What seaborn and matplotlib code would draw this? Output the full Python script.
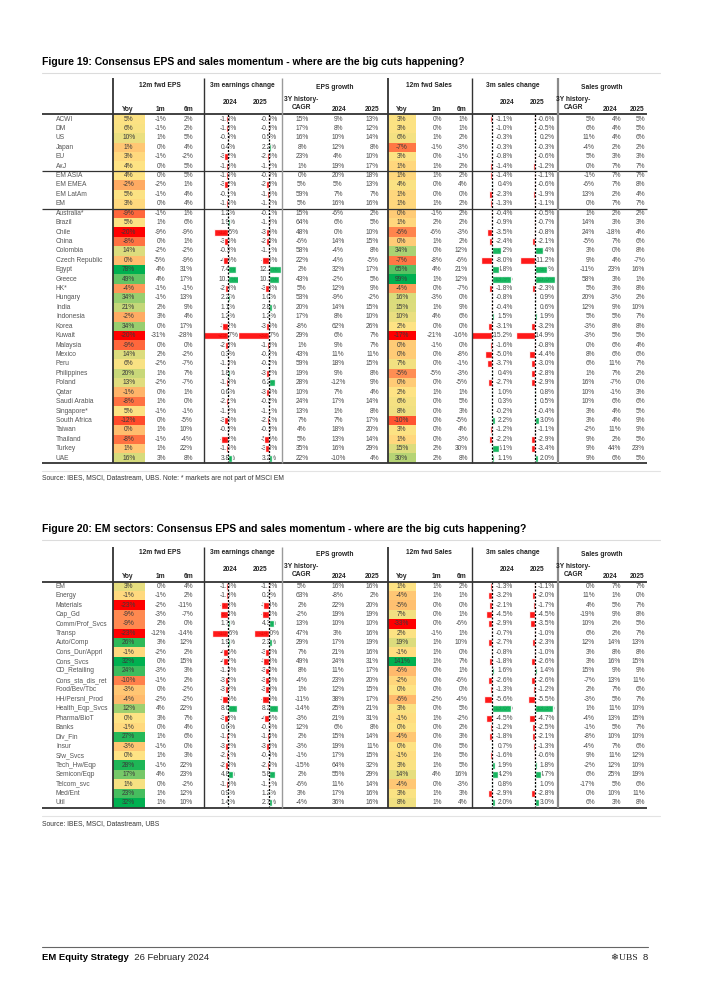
import numpy as np
import pandas as pd
import matplotlib
matplotlib.use("Agg")
import matplotlib.pyplot as plt
import seaborn as sns
from matplotlib.colors import LinearSegmentedColormap, TwoSlopeNorm

sns.set_theme(style="white")
plt.rcParams['font.family'] = ['Liberation Sans', 'DejaVu Sans']

# ---------------- DATA: Figure 19 ----------------
t1_rows = ["ACWI", "DM", "US", "Japan", "EU", "AxJ", "EM ASIA", "EM EMEA", "EM LatAm", "EM",
           "Australia*", "Brazil", "Chile", "China", "Colombia", "Czech Republic", "Egypt", "Greece",
           "HK*", "Hungary", "India", "Indonesia", "Korea", "Kuwait", "Malaysia", "Mexico", "Peru",
           "Philippines", "Poland", "Qatar", "Saudi Arabia", "Singapore*", "South Africa", "Taiwan",
           "Thailand", "Turkey", "UAE"]
t1_eps_yoy = [5, 6, 10, 1, 3, 4, 4, -2, 5, 3, -9, 5, -20, -8, 14, 0, 78, 49, -4, 34, 21, -2, 34, -20,
              -9, 14, 6, 20, 13, -1, -8, 5, -12, 0, -8, 1, 16]
t1_eps_1m = [-1, -1, 1, 0, -1, 0, 0, -2, -1, 0, -1, 1, -9, 0, -2, -5, 4, 4, -1, -1, 2, 3, 0, -31,
             0, 2, -2, 1, -2, 0, 1, -1, 0, 1, -1, 1, 3]
t1_eps_6m = [2, 2, 5, 4, -2, 5, 5, 1, 4, 4, 1, 6, -9, 1, -2, -9, 31, 17, -1, 13, 9, 4, 17, -28,
             0, -2, -7, 7, -7, 1, 0, -1, -5, 10, -4, 22, 8]
t1_earn_2024 = [-1.8, -1.8, -0.9, 0.4, -3.2, -1.6, -1.5, -3.2, -0.1, -1.6, 1.2, 1.9, -12.5, -3.6, -0.3,
                -4.6, 7.4, 10.7, -2.8, 2.2, 1.1, 1.2, -5.2, -29.7, -2.3, 0.3, -1.3, 1.8, -1.8, 0.6,
                -2.1, -1.2, -3.6, -0.9, -6.2, -1.6, 3.8]
t1_earn_2025 = [-0.9, -0.9, 0.5, 2.2, -2.5, -1.2, -0.9, -2.9, -1.6, -1.2, -0.1, -1.0, -3.6, -2.8, -1.1,
                -7.5, 12.2, 10.3, -3.8, 1.0, 2.8, 1.2, -3.5, -32.7, -1.8, -0.2, -0.2, -3.2, 6.2, -3.4,
                -0.2, -1.1, -2.1, -0.8, -5.5, -3.8, 3.2]
t1_epsg_cagr = [15, 17, 16, 8, 23, 1, 0, 5, 59, 5, 15, 64, 48, -6, 58, 22, 2, 43, 5, 53, 20, 17, -8, 29,
                1, 43, 59, 19, 28, 10, 24, 13, 7, 4, 5, 35, 22]
t1_epsg_2024 = [9, 8, 10, 12, 4, 19, 20, 5, 7, 16, -6, 6, 0, 14, -4, -4, 32, -2, 12, -9, 14, 8, 62, 6,
                9, 11, 18, 9, -12, 7, 17, 1, 7, 18, 13, 16, -10]
t1_epsg_2025 = [13, 12, 14, 8, 10, 17, 18, 13, 7, 16, 2, 5, 10, 15, 8, -5, 17, 5, 9, -2, 15, 10, 26, 7,
                7, 11, 15, 8, 9, 4, 14, 8, 17, 20, 14, 29, 4]
t1_sales_yoy = [3, 3, 6, -7, 3, 1, 1, 4, 1, 1, 0, 1, -6, 0, 34, -7, 65, 99, -4, 16, 15, 10, 2, -17,
                0, 0, 7, -5, 0, 2, 6, 8, -10, 3, 1, 15, 30]
t1_sales_1m = [0, 0, 1, -1, 0, 1, 1, 0, 0, 1, -1, 2, -6, 1, 0, -8, 4, 1, 0, -3, 1, 4, 0, -21,
               -1, 0, 0, -5, 0, 1, 0, 0, 0, 0, 0, 2, 2]
t1_sales_6m = [1, 1, 2, -3, -1, 2, 2, 4, 0, 2, 2, 2, -3, 2, 12, -6, 21, 12, -7, 0, 9, 6, 0, -16,
               0, -8, -1, -3, -5, 1, 5, 3, -5, 4, -3, 30, 8]
t1_schg_2024 = [-1.1, -1.0, -0.3, -0.3, -0.8, -1.4, -1.4, 0.4, -2.3, -1.3, -0.4, -0.9, -3.5, -2.4, 6.2,
                -8.0, 4.8, 13.9, -1.8, -0.8, -0.4, 1.5, -3.1, -15.2, -1.6, -5.0, -3.7, 0.4, -2.7, 1.0,
                0.3, -0.2, 2.2, -1.2, -2.2, 5.1, 1.1]
t1_schg_2025 = [-0.6, -0.5, 0.2, -0.3, -0.6, -1.2, -1.1, -0.6, -1.9, -1.1, -0.5, -0.7, -0.8, -2.1, 6.4,
                -11.2, 9.3, 15.5, -2.3, 0.9, 0.6, 1.9, -3.2, -14.9, -0.8, -4.4, -3.0, -2.8, -2.9, 0.8,
                0.5, -0.4, 3.0, -1.1, -2.9, -3.4, 2.0]
t1_sg_cagr = [5, 6, 11, -4, 5, 0, -1, -6, 13, 0, 1, 14, 24, -5, 3, 9, -11, 58, 5, 20, 12, 5, -3, -3,
              0, 8, 6, 1, 16, 10, 10, 3, 3, -2, 9, 9, 9]
t1_sg_2024 = [4, 4, 4, 2, 3, 7, 7, 7, 2, 7, 2, 3, -18, 7, 0, 4, 23, 3, 3, -3, 9, 5, 8, 5,
              6, 6, 11, 7, -7, -1, 6, 4, 4, 11, 2, 44, 6]
t1_sg_2025 = [5, 5, 6, 2, 3, 7, 7, 8, 4, 7, 2, 3, 4, 6, 8, -7, 16, 1, 8, 2, 10, 7, 8, 5,
              4, 6, 7, 2, 0, 3, 6, 5, 9, 9, 5, 23, 5]

# ---------------- DATA: Figure 20 ----------------
t2_rows = ["EM", "Energy", "Materials", "Cap_Gd", "Comm/Prof_Svcs", "Transp", "Auto/Comp",
           "Cons_Dur/Apprl", "Cons_Svcs", "CD_Retailing", "Cons_sta_dis_ret", "Food/Bev/Tbc",
           "HH/Persnl_Prod", "Health_Eqp_Svcs", "Pharma/BioT", "Banks", "Div_Fin", "Insur",
           "S/w_Svcs", "Tech_Hw/Eqp", "Semicon/Eqp", "Telcom_svc", "Med/Ent", "Util"]
t2_eps_yoy = [3, -1, -23, -9, -9, -23, 26, -1, 32, 24, -10, -3, -4, 12, 0, -1, 27, -3, 0, 28, 17, 1, 23, 32]
t2_eps_1m = [0, -1, -2, -3, 2, -12, 3, -2, 0, -3, -1, 0, -2, 4, 3, 0, 1, -1, 1, -1, 4, 0, 1, 1]
t2_eps_6m = [4, 2, -11, -7, 0, -14, 12, 2, 15, 3, 2, -2, -2, 22, 7, 4, 6, 0, 3, 22, 23, -2, 12, 10]
t2_earn_2024 = [-1.6, -1.6, -6.8, -8.4, 1.7, -15.6, 1.9, -4.6, -4.7, -1.4, -3.2, -3.2, -5.6, 8.6, -3.9,
                0.6, -1.7, -3.2, -2.1, -2.8, 4.8, -1.6, 0.9, 1.4]
t2_earn_2025 = [-1.2, 0.2, -5.4, -6.3, 4.3, -14.0, 2.3, -3.3, -5.3, -3.5, -3.5, -3.8, -6.0, 8.2, -4.5,
                -0.5, -1.4, -3.0, -0.4, -2.0, 5.8, -1.1, 1.2, 2.7]
t2_epsg_cagr = [5, 63, 2, -2, 13, 47, 29, 7, 49, 8, -4, 1, -11, -14, -3, 12, 2, -3, -1, -15, 2, -6, 3, -4]
t2_epsg_2024 = [16, -8, 22, 19, 10, 3, 17, 21, 24, 11, 23, 12, 38, 25, 21, 6, 15, 19, 17, 64, 55, 11, 17, 36]
t2_epsg_2025 = [16, 2, 20, 19, 10, 16, 19, 16, 31, 17, 20, 15, 17, 21, 31, 8, 14, 11, 15, 32, 29, 14, 16, 16]
t2_sales_yoy = [1, -4, -5, 7, -33, 2, 19, -1, 141, -6, -2, 0, -6, 3, -1, 0, -4, 0, -1, 3, 14, -4, 3, 8]
t2_sales_1m = [1, 1, 0, 0, 0, -1, 1, 1, 1, 0, 0, 0, -2, 0, 1, 0, 0, 0, 1, 1, 4, 0, 1, 1]
t2_sales_6m = [2, 1, 0, 1, -6, 1, 10, 0, 7, 1, -6, 0, -4, 5, -2, 2, 3, 5, 5, 5, 16, -3, 3, 4]
t2_schg_2024 = [-1.3, -3.2, -2.1, -4.5, -2.9, -0.7, -2.7, -0.8, -1.8, 1.6, -2.6, -1.3, -5.6, 13.6, -4.5,
                -1.2, -1.8, 0.7, -1.6, 1.9, 4.2, 0.8, -2.9, 2.0]
t2_schg_2025 = [-1.1, -2.0, -1.7, -4.5, -3.5, -1.0, -2.3, -1.0, -2.6, 1.4, -2.6, -1.2, -5.5, 13.3, -4.7,
                -2.5, -2.1, -1.3, -0.6, 1.8, 4.7, 1.0, -2.8, 3.0]
t2_sg_cagr = [0, 11, 4, -19, 10, 6, 12, 3, 3, 15, -7, 2, -3, 1, -4, -1, -8, -4, 9, -2, 6, -17, 0, 6]
t2_sg_2024 = [7, 1, 5, 9, 2, 2, 14, 8, 16, 9, 13, 7, 5, 11, 13, 5, 10, 7, 11, 12, 25, 5, 10, 3]
t2_sg_2025 = [7, 0, 7, 8, 5, 7, 13, 8, 15, 9, 11, 6, 7, 10, 15, 7, 10, 6, 12, 10, 19, 6, 11, 8]

group_labels = ["12m fwd EPS", "3m earnings change", "EPS growth",
                "12m fwd Sales", "3m sales change", "Sales growth"]
title1 = "Figure 19: Consensus EPS and sales momentum - where are the big cuts happening?"
title2 = "Figure 20: EM sectors: Consensus EPS and sales momentum - where are the big cuts happening?"
source1 = "Source: IBES, MSCI, Datastream, UBS. Note: * markets are not part of MSCI EM"
source2 = "Source: IBES, MSCI, Datastream, UBS"

# ---------------- LAYOUT ----------------
W, H = 702, 992
RH = 9.42
FS = 4.8
TXT = '#4A4A4A'
HDR = '#222222'
RED, GREEN = '#FF0000', '#00B050'
cmap = LinearSegmentedColormap.from_list('rag', ['#FF0000', '#FFE384', '#00B050'])

fig = plt.figure(figsize=(W / 100, H / 100), dpi=100)
fig.patch.set_facecolor('white')


def px_axes(x0, y0, x1, y1):
    return fig.add_axes([x0 / W, 1 - y1 / H, (x1 - x0) / W, (y1 - y0) / H])


axF = fig.add_axes([0, 0, 1, 1])
axF.set_xlim(0, W)
axF.set_ylim(H, 0)
axF.axis('off')
axF.set_zorder(10)

GROUP_X = [160, 242, 335, 429, 513, 602]
GROUP_DY = [-29, -29, -27, -29, -29, -27]
SUB_HEAD = [("Yoy", 128, -5), ("1m", 160, -5), ("6m", 189, -5),
            ("2024", 230, -12), ("2025", 260, -12),
            ("3Y history-", 301, -15), ("CAGR", 301, -7), ("2024", 339, -5), ("2025", 372, -5),
            ("Yoy", 402, -5), ("1m", 436, -5), ("6m", 462, -5),
            ("2024", 507, -12), ("2025", 537, -12),
            ("3Y history-", 573, -15), ("CAGR", 573, -7), ("2024", 610, -5), ("2025", 637, -5)]
VLINES = [(112.5, '#333333', 1.3), (203.5, '#333333', 1.0), (281.5, '#9A9A9A', 1.0),
          (387.5, '#333333', 1.3), (471.5, '#333333', 1.0), (557.5, '#8A8A8A', 1.6)]
TEXT_COLS = [("eps_1m", 166, 'right', 0), ("eps_6m", 193, 'right', 0),
             ("earn_2024", 228, 'center', 1), ("earn_2025", 269, 'center', 1),
             ("epsg_cagr", 302, 'center', 0), ("epsg_2024", 338, 'center', 0),
             ("epsg_2025", 379, 'right', 0),
             ("sales_1m", 442, 'right', 0), ("sales_6m", 468, 'right', 0),
             ("schg_2024", 513, 'right', 1), ("schg_2025", 555, 'right', 1),
             ("sg_cagr", 595, 'right', 0), ("sg_2024", 621, 'right', 0), ("sg_2025", 645, 'right', 0)]
HEAT_COLS = [("eps_yoy", 112.5, 145), ("sales_yoy", 387.5, 416)]
BAR_COLS = [("earn_2024", 205, 228, 238), ("earn_2025", 239, 269, 281),
            ("schg_2024", 472, 492, 515), ("schg_2025", 516, 535, 557)]


def fmt(v, dec):
    return f"{v:.{dec}f}%"


def draw_table(title, source, rows, d, title_y, header_top, data_top, scales, separators):
    n = len(rows)
    data_bot = data_top + n * RH
    axF.text(42, title_y, title, fontsize=7.5, fontweight='bold', ha='left', va='center', color='black')
    axF.plot([42, 660], [title_y + 10.5] * 2, color='#DCDCDC', lw=0.8)
    for lab, x, dy in zip(group_labels, GROUP_X, GROUP_DY):
        axF.text(x, data_top + dy, lab, fontsize=4.8, fontweight='bold', ha='center', va='center', color=HDR)
    for lab, x, dy in SUB_HEAD:
        axF.text(x, data_top + dy, lab, fontsize=4.8, fontweight='bold', ha='center', va='center', color=HDR)
    axF.plot([42, 647], [data_top] * 2, color='#333333', lw=1.3, solid_capstyle='butt')
    axF.plot([42, 647], [data_bot] * 2, color='#333333', lw=1.3, solid_capstyle='butt')
    for s in separators:
        y = data_top + s * RH
        axF.plot([42, 647], [y, y], color='#333333', lw=0.9, solid_capstyle='butt')
    for x, c, lw in VLINES:
        axF.plot([x, x], [header_top, data_bot], color=c, lw=lw, solid_capstyle='butt')
    axF.plot([42, 660], [data_bot + 8.5] * 2, color='#E3E3E3', lw=0.8)
    axF.text(42, data_bot + 16, source, fontsize=4.9, ha='left', va='center', color='#333333')

    axT = px_axes(0, data_top, W, data_bot)
    axT.set_xlim(0, W)
    axT.set_ylim(n, 0)
    axT.axis('off')
    axT.set_zorder(0)
    for i, r in enumerate(rows):
        axT.text(56, i + 0.5, r, fontsize=FS, ha='left', va='center', color='#555555')
    for key, x, ha, dec in TEXT_COLS:
        for i, v in enumerate(d[key]):
            axT.text(x, i + 0.5, fmt(v, dec), fontsize=FS, ha=ha, va='center', color=TXT)

    for key, x0, x1 in HEAT_COLS:
        vals = d[key]
        axH = px_axes(x0, data_top, x1, data_bot)
        axH.set_zorder(1)
        df = pd.DataFrame({'v': vals}, index=rows)
        norm = TwoSlopeNorm(vmin=min(vals), vcenter=float(np.median(vals)), vmax=max(vals))
        labels = np.array([[fmt(v, 0)] for v in vals])
        sns.heatmap(df, ax=axH, cmap=cmap, norm=norm, annot=labels, fmt='', cbar=False,
                    xticklabels=False, yticklabels=False, linewidths=0,
                    annot_kws=dict(fontsize=FS, color='#3A3A3A'))
        axH.set_xlabel('')
        axH.set_ylabel('')

    for (key, x0, zero, x1), sc in zip(BAR_COLS, scales):
        vals = d[key]
        axB = px_axes(x0, data_top, x1, data_bot)
        axB.set_zorder(2)
        df = pd.DataFrame({'row': rows, 'v': vals,
                           'sign': ['neg' if v < 0 else 'pos' for v in vals]})
        sns.barplot(data=df, x='v', y='row', hue='sign', order=rows, hue_order=['neg', 'pos'],
                    palette={'neg': RED, 'pos': GREEN}, dodge=False, legend=False,
                    errorbar=None, saturation=1, width=0.74, orient='h', ax=axB, alpha=0.9)
        axB.set_xlim(-(zero - x0) / sc, (x1 - zero) / sc)
        axB.set_ylim(n - 0.5, -0.5)
        axB.axvline(0, color='black', lw=0.9, ls=(0, (1.6, 1.2)))
        axB.axis('off')


d1 = dict(eps_yoy=t1_eps_yoy, eps_1m=t1_eps_1m, eps_6m=t1_eps_6m, earn_2024=t1_earn_2024,
          earn_2025=t1_earn_2025, epsg_cagr=t1_epsg_cagr, epsg_2024=t1_epsg_2024, epsg_2025=t1_epsg_2025,
          sales_yoy=t1_sales_yoy, sales_1m=t1_sales_1m, sales_6m=t1_sales_6m, schg_2024=t1_schg_2024,
          schg_2025=t1_schg_2025, sg_cagr=t1_sg_cagr, sg_2024=t1_sg_2024, sg_2025=t1_sg_2025)
d2 = dict(eps_yoy=t2_eps_yoy, eps_1m=t2_eps_1m, eps_6m=t2_eps_6m, earn_2024=t2_earn_2024,
          earn_2025=t2_earn_2025, epsg_cagr=t2_epsg_cagr, epsg_2024=t2_epsg_2024, epsg_2025=t2_epsg_2025,
          sales_yoy=t2_sales_yoy, sales_1m=t2_sales_1m, sales_6m=t2_sales_6m, schg_2024=t2_schg_2024,
          schg_2025=t2_schg_2025, sg_cagr=t2_sg_cagr, sg_2024=t2_sg_2024, sg_2025=t2_sg_2025)

draw_table(title1, source1, t1_rows, d1, title_y=62, header_top=78, data_top=114.3,
           scales=[1.1, 0.95, 1.4, 1.3], separators=[6, 10])
draw_table(title2, source2, t2_rows, d2, title_y=529, header_top=547, data_top=581.5,
           scales=[1.0, 1.1, 1.4, 1.35], separators=[])

axF.plot([42, 648], [947, 947], color='#666666', lw=0.8)
tf = axF.text(42, 958, "EM Equity Strategy", fontsize=6.8, fontweight='bold', ha='left', va='center',
              color='black')
axF.annotate("  26 February 2024", xy=(1, 0.5), xycoords=tf, ha='left', va='center',
             fontsize=6.8, color='#222222')
t8 = axF.text(648, 958, "8", fontsize=6.8, ha='right', va='center', color='#222222')
axF.annotate("\u2744UBS  ", xy=(0, 0.5), xycoords=t8, ha='right', va='center', fontsize=6.8,
             color='#222222', family=['Liberation Serif', 'DejaVu Sans'])

fig.savefig("out.png", dpi=100, facecolor='white')
